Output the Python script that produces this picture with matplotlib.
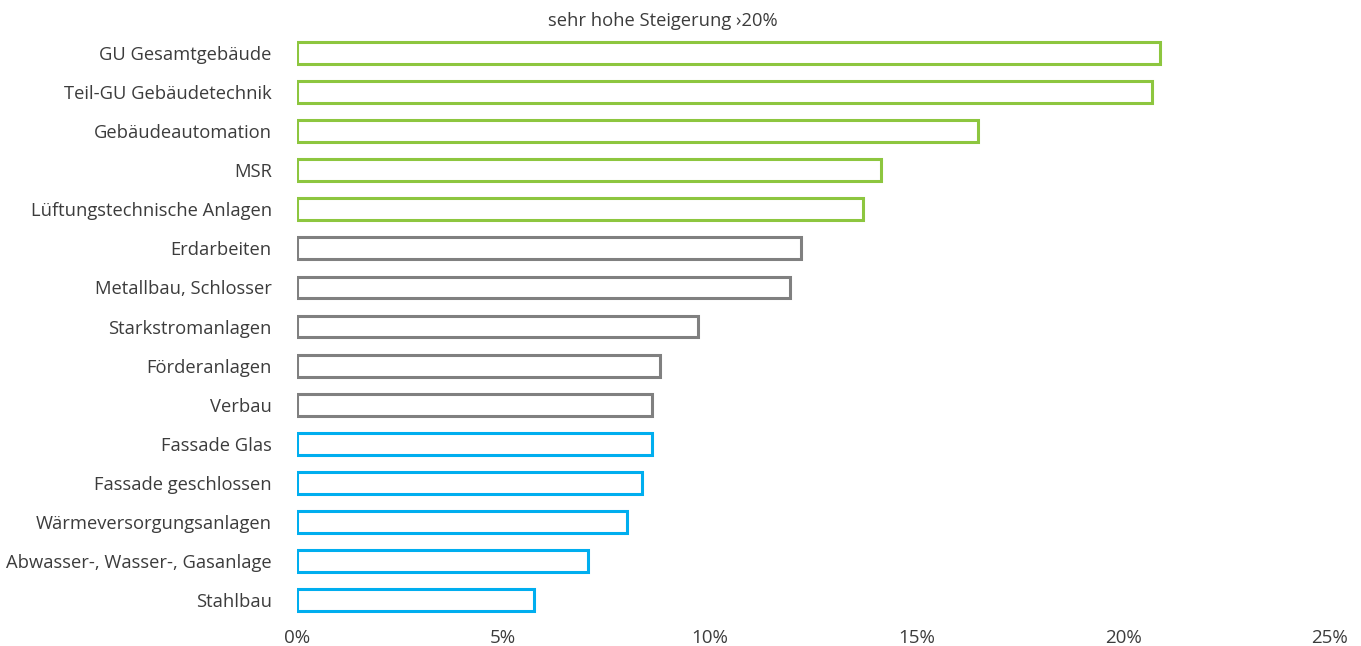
import matplotlib
matplotlib.use("Agg")
import matplotlib.pyplot as plt
from matplotlib.ticker import FuncFormatter

plt.rcParams["font.family"] = ["Open Sans", "DejaVu Sans"]

# trades sorted by price increase, top to bottom
categories = [
    "GU Gesamtgebäude",
    "Teil-GU Gebäudetechnik",
    "Gebäudeautomation",
    "MSR",
    "Lüftungstechnische Anlagen",
    "Erdarbeiten",
    "Metallbau, Schlosser",
    "Starkstromanlagen",
    "Förderanlagen",
    "Verbau",
    "Fassade Glas",
    "Fassade geschlossen",
    "Wärmeversorgungsanlagen",
    "Abwasser-, Wasser-, Gasanlage",
    "Stahlbau",
]
increase = [20.9, 20.7, 16.5, 14.15, 13.7, 12.2, 11.95, 9.7, 8.8, 8.6, 8.6, 8.35, 8.0, 7.05, 5.75]
groups = ["high"] * 5 + ["mid"] * 5 + ["low"] * 5
xticks = [0, 5, 10, 15, 20, 25]

colors = {"high": "#8dc63f", "mid": "#808080", "low": "#00aeef"}

fig = plt.figure(figsize=(13.61, 6.46), dpi=100)
ax = fig.add_axes([0.218, 0.041, 0.759, 0.907])

ypos = list(range(len(categories)))
ax.barh(ypos, increase, height=0.56, facecolor="white",
        edgecolor=[colors[g] for g in groups], linewidth=2.2)

ax.set_ylim(len(categories) - 0.5, -0.5)
ax.set_xlim(0, 25)
ax.set_yticks(ypos)
ax.set_yticklabels(categories, fontsize=13.2, color="#3c3c3c")
ax.set_xticks(xticks)
ax.xaxis.set_major_formatter(FuncFormatter(lambda v, p: f"{v:.0f}%"))
ax.tick_params(axis="y", length=0, pad=18)
ax.tick_params(axis="x", length=0, pad=7, labelsize=13.5, labelcolor="#3c3c3c")
for s in ax.spines.values():
    s.set_visible(False)

fig.text(0.487, 0.968, "sehr hohe Steigerung ›20%", ha="center", va="center",
         fontsize=13.2, color="#3c3c3c")

fig.savefig("out.png", dpi=100, facecolor="white")
